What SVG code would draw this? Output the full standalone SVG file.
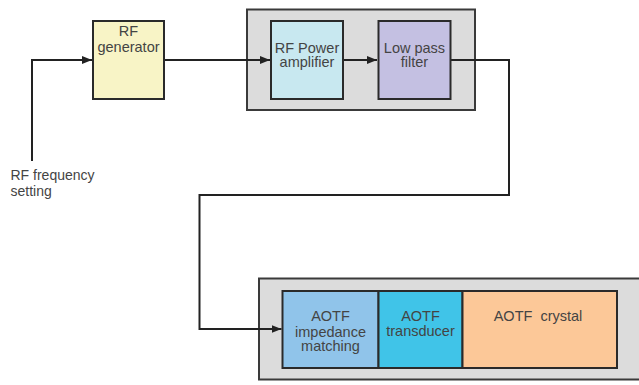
<svg xmlns="http://www.w3.org/2000/svg" width="639" height="385" viewBox="0 0 639 385">
  <style>
    .grp { fill: #dcdcdc; stroke: #3a3a3a; stroke-width: 2; }
    .box { stroke: #2a2a2a; stroke-width: 2; }
    .lbl { font-family: "Liberation Sans", Arial, sans-serif; font-size: 14.5px; fill: #444444; text-anchor: middle; }
    .lbl-left { font-family: "Liberation Sans", Arial, sans-serif; font-size: 14px; fill: #444444; }
    .wire { fill: none; stroke: #222222; stroke-width: 2; }
  </style>
  <defs>
    <marker id="arrow" viewBox="0 0 10 8" refX="10" refY="4" markerWidth="10" markerHeight="8" markerUnits="userSpaceOnUse" orient="auto">
      <path d="M0,0 L10,4 L0,8 Z" fill="#222222"/>
    </marker>
  </defs>

  <rect width="639" height="385" fill="#ffffff"/>

  <!-- enclosures -->
  <rect id="amp-stage" class="grp" x="247" y="9.5" width="228" height="100.5"/>
  <rect id="aotf-stage" class="grp" x="259" y="278.5" width="384" height="101"/>

  <!-- signal path -->
  <g id="connectors">
    <polyline class="wire" points="32,161 32,60 92,60" marker-end="url(#arrow)"/>
    <line class="wire" x1="164" y1="60" x2="270" y2="60" marker-end="url(#arrow)"/>
    <line class="wire" x1="343" y1="60" x2="377" y2="60" marker-end="url(#arrow)"/>
    <polyline class="wire" points="451,60 509,60 509,195 199.5,195 199.5,329 281.5,329" marker-end="url(#arrow)"/>
  </g>

  <g id="rf-frequency-setting">
    <text class="lbl-left" x="10.5" y="180">RF frequency</text>
    <text class="lbl-left" x="10.5" y="195.5">setting</text>
  </g>

  <g id="rf-generator">
    <rect class="box" x="93" y="21" width="71" height="78" fill="#f8f4c6"/>
    <text class="lbl" x="128.5" y="36">RF</text>
    <text class="lbl" x="128.5" y="51.5">generator</text>
  </g>

  <g id="rf-power-amplifier">
    <rect class="box" x="271" y="21" width="72" height="78" fill="#c8e8f0"/>
    <text class="lbl" x="307" y="52.5">RF Power</text>
    <text class="lbl" x="307" y="67">amplifier</text>
  </g>

  <g id="low-pass-filter">
    <rect class="box" x="378.5" y="21" width="72" height="78" fill="#c4c0e2"/>
    <text class="lbl" x="414.5" y="52.5">Low pass</text>
    <text class="lbl" x="414.5" y="67">filter</text>
  </g>

  <g id="aotf-impedance-matching">
    <rect class="box" x="282.5" y="291" width="96" height="77" fill="#90c4ea"/>
    <text class="lbl" x="330.5" y="321">AOTF</text>
    <text class="lbl" x="330.5" y="336.5">impedance</text>
    <text class="lbl" x="330.5" y="351">matching</text>
  </g>

  <g id="aotf-transducer">
    <rect class="box" x="378.5" y="291" width="84" height="77" fill="#40c4e8"/>
    <text class="lbl" x="420.5" y="321">AOTF</text>
    <text class="lbl" x="420.5" y="336">transducer</text>
  </g>

  <g id="aotf-crystal">
    <rect class="box" x="462.5" y="291" width="154.5" height="77" fill="#fcc898"/>
    <text class="lbl" x="538" y="321" xml:space="preserve">AOTF  crystal</text>
  </g>
</svg>
